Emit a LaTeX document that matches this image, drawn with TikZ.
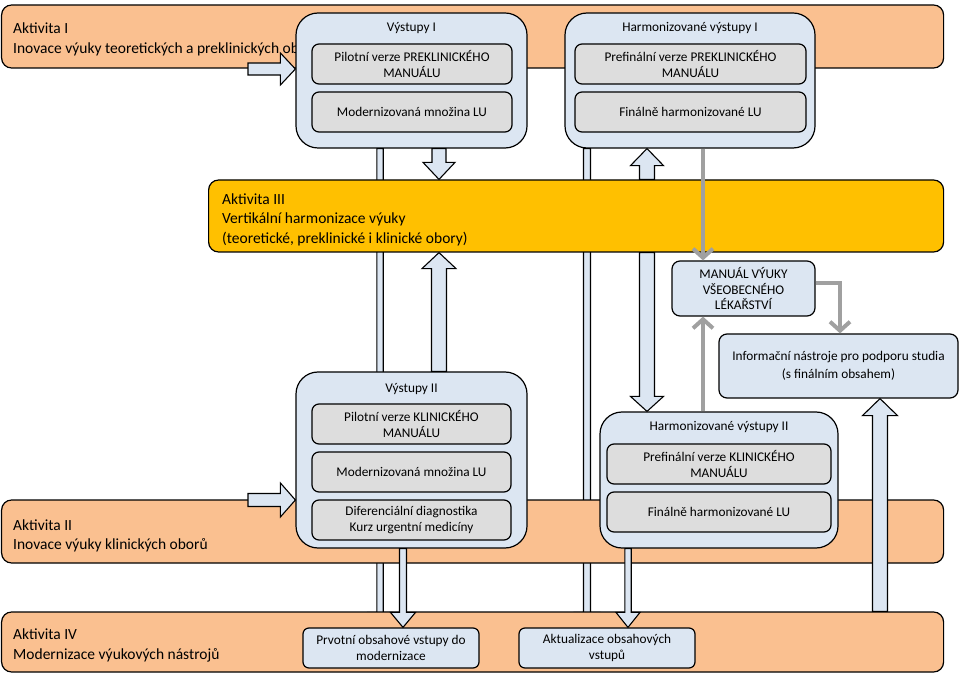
\documentclass[tikz,border=0pt]{standalone}
\usepackage{fontspec}
\setmainfont{Carlito}
\usetikzlibrary{calc,arrows.meta}
\pgfdeclarelayer{back}
\pgfdeclarelayer{front}
\pgfsetlayers{back,main,front}
\definecolor{bandor}{HTML}{FAC090}
\definecolor{boxbl}{HTML}{DCE6F2}
\definecolor{boxgr}{HTML}{DDDDDD}
\definecolor{yel}{HTML}{FFC000}
\definecolor{grayar}{HTML}{A0A0A0}
\tikzset{
  band/.style={draw=black, line width=1.2pt, rounded corners=10pt, fill=bandor,
    inner sep=0pt, anchor=west},
  bandtxt/.style={inner sep=0pt, anchor=base west, font=\fontsize{15.5}{19.5}\selectfont},
  cont/.style={draw=black, line width=1.2pt, rounded corners=22pt, fill=boxbl, inner sep=0pt},
  ibox/.style={draw=black, line width=1.2pt, rounded corners=7pt, fill=boxgr, align=center,
    font=\fontsize{13.3}{16}\selectfont, inner sep=0pt, minimum height=40pt},
  bbox/.style={draw=black, line width=1.2pt, rounded corners=8pt, fill=boxbl, align=center,
    font=\fontsize{13.3}{15.5}\selectfont, inner sep=0pt},
  ttl/.style={font=\fontsize{13.3}{16}\selectfont, inner sep=0pt},
  blockarrow/.style={draw=black, line width=1.1pt, fill=boxbl, line join=miter},
  grayarr/.style={draw=grayar, line width=4pt, line join=miter,
    -{Straight Barb[length=9pt,width=20pt]}}
}
\newcommand{\blockv}[5]{%
  \draw[blockarrow] let \p1=(#1), \p2=(#2), \n1={\y2+ifthenelse(\y1>\y2,1,-1)*#5} in
   ({\x1-#3pt},\y1) -- ({\x1-#3pt},{\n1*1pt}) -- ({\x1-#4pt},{\n1*1pt}) -- (\x1,\y2)
   -- ({\x1+#4pt},{\n1*1pt}) -- ({\x1+#3pt},{\n1*1pt}) -- ({\x1+#3pt},\y1) -- cycle;}
\newcommand{\blockh}[5]{%
  \draw[blockarrow] let \p1=(#1), \p2=(#2), \n1={\x2+ifthenelse(\x1>\x2,1,-1)*#5} in
   (\x1,{\y1-#3pt}) -- ({\n1*1pt},{\y1-#3pt}) -- ({\n1*1pt},{\y1-#4pt}) -- (\x2,\y1)
   -- ({\n1*1pt},{\y1+#4pt}) -- ({\n1*1pt},{\y1+#3pt}) -- (\x1,{\y1+#3pt}) -- cycle;}
\begin{document}
\begin{tikzpicture}[x=1pt,y=-1pt]
\useasboundingbox (0,0) rectangle (959,676);
% helper coordinates
\coordinate (x380) at (380,0);
\coordinate (x403) at (403,0);
\coordinate (x439) at (439,0);
\coordinate (x587) at (587,0);
\coordinate (x628) at (628,0);
\coordinate (x647) at (647,0);
\coordinate (x703) at (703,0);
\coordinate (x880) at (880,0);
\coordinate (c840) at (840,283);
\coordinate (s1) at (248,69);
\coordinate (s2) at (248,500);
% bands
\node[band, minimum width=942pt, minimum height=63pt] (A1) at (1,36.5) {};
\node[bandtxt] (tA1a) at (13,34) {Aktivita I};
\node[band, fill=yel, minimum width=735pt, minimum height=72pt] (A3) at (208,216) {};
\node[bandtxt] (tA3a) at (222,204.5) {Aktivita III};
\node[bandtxt] (tA3b) at (222,224) {Vertikální harmonizace výuky};
\node[bandtxt] (tA3c) at (222,243.5) {(teoretické, preklinické i klinické obory)};
\node[band, minimum width=942pt, minimum height=63pt] (A2) at (1,531.5) {};
\node[bandtxt] (tA2a) at (13,530) {Aktivita II};
\node[bandtxt] (tA2b) at (13,549.5) {Inovace výuky klinických oborů};
\node[band, minimum width=942pt, minimum height=60pt] (A4) at (1,642) {};
\node[bandtxt] (tA4a) at (13,639.5) {Aktivita IV};
\node[bandtxt] (tA4b) at (13,659) {Modernizace výukových nástrojů};
% Vystupy I
\node[cont, minimum width=231pt, minimum height=135pt] (Vy1) at (411.5,80.5) {};
\node[ttl] (tVy1) at (411.5,28) {Výstupy I};
\node[ibox, minimum width=200pt] (p1) at (412,64) {Pilotní verze PREKLINICKÉHO\\MANUÁLU};
\node[ibox, minimum width=200pt] (m1) at (412,112) {Modernizovaná množina LU};
% Harmonizovane vystupy I
\node[cont, minimum width=250pt, minimum height=135pt] (HV1) at (690,80.5) {};
\node[ttl] (tHV1) at (690,28) {Harmonizované výstupy I};
\node[ibox, minimum width=231pt] (pf1) at (690.5,64) {Prefinální verze PREKLINICKÉHO\\MANUÁLU};
\node[ibox, minimum width=231pt] (f1) at (690.5,112) {Finálně harmonizované LU};
% Vystupy II
\node[cont, minimum width=231pt, minimum height=176pt] (Vy2) at (411.5,460) {};
\node[ttl] (tVy2) at (411.5,389) {Výstupy II};
\node[ibox, minimum width=199pt] (p2) at (411.5,424) {Pilotní verze KLINICKÉHO\\MANUÁLU};
\node[ibox, minimum width=199pt] (m2) at (411.5,472) {Modernizovaná množina LU};
\node[ibox, minimum width=199pt] (d2) at (411.5,520) {Diferenciální diagnostika\\Kurz urgentní medicíny};
% Harmonizovane vystupy II
\node[cont, minimum width=238pt, minimum height=136pt] (HV2) at (719,480) {};
\node[ttl] (tHV2) at (719,427) {Harmonizované výstupy II};
\node[ibox, minimum width=224pt] (pf2) at (719,464) {Prefinální verze KLINICKÉHO\\MANUÁLU};
\node[ibox, minimum width=224pt] (f2) at (719,512) {Finálně harmonizované LU};
% other boxes
\node[bbox, minimum width=143pt, minimum height=55pt] (Man) at (743.5,288.5)
  {MANUÁL VÝUKY\\VŠEOBECNÉHO\\LÉKAŘSTVÍ};
\node[bbox, minimum width=239pt, minimum height=64pt, font=\fontsize{13.3}{18}\selectfont] (Info) at (838.5,366)
  {Informační nástroje pro podporu studia\\(s finálním obsahem)};
\node[bbox, rounded corners=6pt, minimum width=176pt, minimum height=40pt] (Prv) at (391,648)
  {Prvotní obsahové vstupy do\\modernizace};
\node[bbox, rounded corners=6pt, minimum width=176pt, minimum height=40pt] (Akt) at (607,648)
  {Aktualizace obsahových\\vstupů};
% arrows behind
\begin{pgfonlayer}{back}
\blockv{Vy1.south -| x380}{Prv.north -| x380}{3.2}{12}{15}
\blockv{HV1.south -| x587}{Akt.north -| x587}{3.5}{12.5}{15}
\end{pgfonlayer}
% front layer
\begin{pgfonlayer}{front}
\begin{scope}
\clip (0,0) rectangle (295,70);
\node[bandtxt] (tA1b) at (13,54) {Inovace výuky teoretických a preklinických oborů};
\end{scope}
\blockh{s1}{s1 -| Vy1.west}{6}{16}{15}
\blockh{s2}{s2 -| Vy2.west}{6.5}{17}{15}
\blockv{Vy2.south -| x403}{Prv.north -| x403}{3.5}{12.5}{15}
\blockv{HV2.south -| x628}{Akt.north -| x628}{3.2}{12}{15}
\blockv{Vy1.south -| x439}{A3.north -| x439}{7}{16}{17}
\blockv{Vy2.north -| x439}{A3.south -| x439}{7.5}{17}{16}
\blockv{A3.north -| x647}{HV1.south -| x647}{7.5}{16.5}{17}
\blockv{A3.south -| x647}{HV2.north -| x647}{7.5}{16.5}{15}
\blockv{A4.north -| x880}{Info.south -| x880}{7.5}{17.5}{17}
\draw[grayarr] (HV1.south -| x703) -- (Man.north -| x703);
\draw[grayarr] (HV2.north -| x703) -- (Man.south -| x703);
\draw[grayarr] (c840 -| Man.east) -- (c840) -- (c840 |- Info.north);
\end{pgfonlayer}
\end{tikzpicture}
\end{document}
